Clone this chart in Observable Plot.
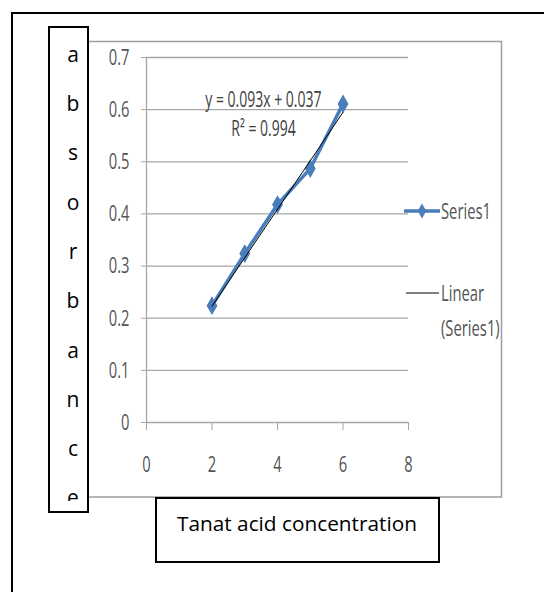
<!DOCTYPE html>
<html>
<head>
<meta charset="utf-8">
<script src="https://cdn.jsdelivr.net/npm/d3@7"></script>
<script src="https://cdn.jsdelivr.net/npm/@observablehq/plot@0.6"></script>
<style>
  html, body { margin: 0; padding: 0; background: #fff; }
  #wrap { position: relative; width: 544px; height: 592px; overflow: hidden; }
  #wrap > * { position: absolute; left: 0; top: 0; }
</style>
</head>
<body>
<div id="wrap"></div>
<script>
// ---- data ----
const concentration = [2, 3, 4, 5, 6];
const absorbance = [0.224, 0.324, 0.418, 0.487, 0.611];
const slope = 0.093;
const intercept = 0.037;
const trendX = [2, 6];
const xTicks = [0, 2, 4, 6, 8];
const yTicks = [0, 0.1, 0.2, 0.3, 0.4, 0.5, 0.6, 0.7];
const yLabelLetters = ["a", "b", "s", "o", "r", "b", "a", "n", "c", "e"];
const xLabel = "Tanat acid concentration";
const equation = "y = 0.093x + 0.037";
const rSquared = "R² = 0.994";
const seriesName = "Series1";
const trendName = ["Linear", "(Series1)"];

const series = concentration.map((x, i) => ({x, y: absorbance[i]}));
const trend = trendX.map(x => ({x, y: slope * x + intercept}));

const blue = "#4a7ebb";
const grid = "#a6a6a6";
const wrap = document.getElementById("wrap");
const font = "'Open Sans', sans-serif";

// horizontally condense text elements (narrow Calibri-like look)
function condense(root, kx, ky = 1) {
  root.querySelectorAll("text").forEach(t => {
    const anchor = getComputedStyle(t).textAnchor;
    const g = document.createElementNS("http://www.w3.org/2000/svg", "g");
    t.parentNode.insertBefore(g, t);
    g.appendChild(t);
    g.style.transformBox = "fill-box";
    g.style.transformOrigin = anchor === "end" ? "right center" : anchor === "middle" ? "center" : "left center";
    g.style.transform = `scale(${kx}, ${ky})`;
  });
}

// decorations: outer border + chart area border
const deco = document.createElementNS("http://www.w3.org/2000/svg", "svg");
deco.setAttribute("width", 544); deco.setAttribute("height", 592);
deco.innerHTML = `
  <rect x="12" y="13" width="700" height="700" fill="none" stroke="#000" stroke-width="2"/>
  <rect x="86.5" y="41.5" width="415" height="455.5" fill="none" stroke="#9e9e9e" stroke-width="1.5"/>`;
wrap.appendChild(deco);

const chart = Plot.plot({
  width: 544,
  height: 592,
  marginLeft: 146,
  marginRight: 136,
  marginTop: 57,
  marginBottom: 170,
  style: {background: "transparent", fontFamily: font, fontSize: "21px", color: "#555", overflow: "visible"},
  x: {domain: [0, 8]},
  y: {domain: [0, 0.7]},
  marks: [
    Plot.ruleY(yTicks, {stroke: grid, strokeWidth: 1.3, strokeOpacity: 1}),
    Plot.ruleX([0], {stroke: grid, strokeWidth: 1.3}),
    Plot.axisY({ticks: yTicks, tickSize: 5, tickPadding: 12, stroke: grid, strokeOpacity: 1, label: null, tickFormat: d => String(+d.toFixed(1)), fill: "#555"}),
    Plot.axisX({ticks: xTicks, tickSize: 8, tickPadding: 26, stroke: grid, strokeOpacity: 1, label: null, fill: "#555"}),
    Plot.line(series, {x: "x", y: "y", stroke: blue, strokeWidth: 3.5}),
    Plot.dot(series, {x: "x", y: "y", symbol: "diamond", r: 4.8, fill: blue, stroke: blue}),
    Plot.line(trend, {x: "x", y: "y", stroke: "#000", strokeWidth: 1}),
    Plot.text([equation], {x: 3.57, y: 0.618, text: d => d, fontSize: 20, fill: "#404040"}),
    Plot.text([rSquared], {x: 3.57, y: 0.562, text: d => d, fontSize: 20, fill: "#404040"})
  ]
});
wrap.appendChild(chart);
condense(chart, 0.7, 1.08);

// legend
const leg = document.createElementNS("http://www.w3.org/2000/svg", "svg");
leg.setAttribute("width", 544); leg.setAttribute("height", 592);
leg.innerHTML = `
  <line x1="404" x2="440" y1="211" y2="211" stroke="${blue}" stroke-width="3.5"/>
  <path d="M422,203.5 L426.3,211 L422,218.5 L417.7,211 Z" fill="${blue}"/>
  <line x1="406" x2="439" y1="293" y2="293" stroke="#000" stroke-width="1"/>
  <g font-family="${font}" font-size="20" fill="#555">
    <text x="441" y="211" dy="0.36em">${seriesName}</text>
    <text x="441" y="293" dy="0.36em">${trendName[0]}</text>
    <text x="441" y="328" dy="0.36em">${trendName[1]}</text>
  </g>`;
wrap.appendChild(leg);
condense(leg, 0.74, 1.08);

// axis title boxes
const boxes = document.createElementNS("http://www.w3.org/2000/svg", "svg");
boxes.setAttribute("width", 544); boxes.setAttribute("height", 592);
boxes.innerHTML = `
  <defs><clipPath id="yclip"><rect x="49" y="27" width="39" height="474"/></clipPath></defs>
  <rect x="49" y="27" width="39" height="485" fill="#fff" stroke="#000" stroke-width="2"/>
  <g clip-path="url(#yclip)" font-family="${font}" font-size="21" fill="#000" text-anchor="middle">
    ${yLabelLetters.map((l, i) => `<text x="73" y="${61.7 + 49.3 * i}">${l}</text>`).join("")}
  </g>
  <rect x="156" y="498" width="283" height="64" fill="#fff" stroke="#000" stroke-width="2"/>
  <text x="297" y="531" font-family="${font}" font-size="20.8" fill="#000" text-anchor="middle">${xLabel}</text>`;
wrap.appendChild(boxes);
</script>
</body>
</html>
